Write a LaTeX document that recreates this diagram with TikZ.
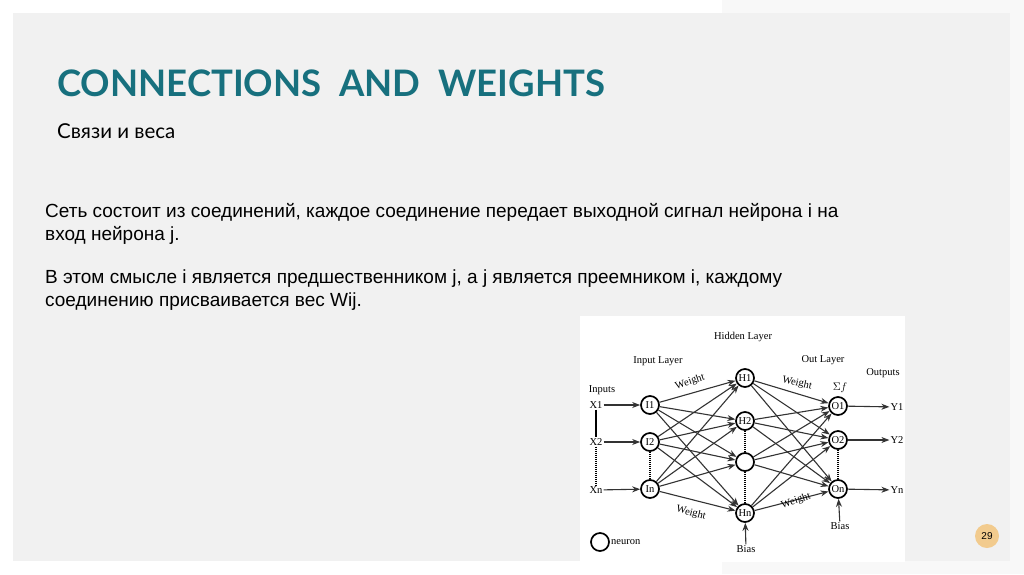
\documentclass[tikz,border=0pt]{standalone}
\usepackage{fontspec}
\setmainfont{Liberation Sans}
\newfontfamily\titlefont{Lato}
\newfontfamily\netfont{Liberation Serif}
\usetikzlibrary{arrows.meta}
\definecolor{slidegray}{HTML}{F1F1F1}
\definecolor{sidegray}{HTML}{F8F8F8}
\definecolor{titleteal}{HTML}{17707E}
\definecolor{badge}{HTML}{F2CB8E}

\begin{document}
\begin{tikzpicture}[x=1pt,y=-1pt,
	neuron/.style={draw,circle,line width=1.7pt,minimum size=18pt,inner sep=0pt,font=\netfont\fontsize{10.5}{10.5}\selectfont},
	lbl/.style={font=\netfont\fontsize{10.5}{10.5}\selectfont,inner sep=1pt},
	wire/.style={-{Stealth[length=8pt,width=6pt]},line width=1.1pt,black!80},
	dots/.style={line width=1.7pt,dash pattern=on 1pt off 1pt}]
	% slide background
	\useasboundingbox (0,0) rectangle (1024,574);
	\fill[white] (0,0) rectangle (1024,574);
	\fill[sidegray] (722,0) rectangle (1024,574);
	\fill[slidegray] (13,13) rectangle (1010,561);
	
	\node[anchor=base west,inner sep=0pt,text=titleteal,font=\titlefont\bfseries\fontsize{36.5}{36.5}\selectfont] (title) at (57,96) {CONNECTIONS\ \ AND\ \ WEIGHTS};
	\node[anchor=base west,inner sep=0pt,font=\titlefont\fontsize{20.5}{20.5}\selectfont] (subtitle) at (57,138) {Связи и веса};
	\node[anchor=base west,inner sep=0pt,align=left,font=\fontsize{19}{23}\selectfont] (p1) at (45,240) {Сеть состоит из соединений, каждое соединение передает выходной сигнал нейрона i на\\вход нейрона j.};
	\node[anchor=base west,inner sep=0pt,align=left,font=\fontsize{19}{23}\selectfont] (p2) at (45,306) {В этом смысле i является предшественником j, а j является преемником i, каждому\\соединению присваивается вес Wij.};
	
	\node[circle,fill=badge,minimum size=24pt,inner sep=0pt,font=\fontsize{10}{10}\selectfont] (page) at (987,536) {29};
	
	% network picture
	\fill[white] (580,316) rectangle (905,562);
	
	\node[lbl] (hidden) at (743,337) {Hidden Layer};
	\node[lbl] (inlayer) at (658,361) {Input Layer};
	\node[lbl] (outlayer) at (823,360) {Out Layer};
	\node[lbl] (outputs) at (883,373) {Outputs};
	\node[lbl] (inputs) at (602,390) {Inputs};
	\node[lbl] (sigma) at (840,388) {$\Sigma f$};
	
	\node[lbl] (x1) at (596,405) {X1};
	\node[lbl] (x2) at (596,442) {X2};
	\node[lbl] (xn) at (596,490) {Xn};
	
	\node[neuron] (i1) at (650,405) {I1};
	\node[neuron] (i2) at (650,442) {I2};
	\node[neuron] (in) at (650,489) {In};
	
	\node[neuron] (h1) at (745,378) {H1};
	\node[neuron] (h2) at (745,421) {H2};
	\node[neuron] (h3) at (745,462) {};
	\node[neuron] (hn) at (745,513) {Hn};
	
	\node[neuron] (o1) at (838,406) {O1};
	\node[neuron] (o2) at (838,440) {O2};
	\node[neuron] (on) at (838,489) {On};
	
	\node[lbl] (y1) at (897,407) {Y1};
	\node[lbl] (y2) at (897,440) {Y2};
	\node[lbl] (yn) at (897,490) {Yn};
	
	\node[lbl] (biash) at (746,549) {Bias};
	\node[lbl] (biaso) at (840,526) {Bias};
	
	\node[neuron] (legend) at (600,542) {};
	\node[lbl,anchor=west] (legendtxt) at (610,542) {neuron};
	
	\draw[line width=1.7pt] (x1) -- (x2);
	\draw[dots] (x2) -- (xn);
	\draw[dots] (i2) -- (in);
	\draw[dots] (h2) -- (h3);
	\draw[dots] (h3) -- (hn);
	\draw[dots] (o2) -- (on);
	
	\draw[wire] (x1) -- (i1);
	\draw[wire] (x2) -- (i2);
	\draw[wire] (xn) -- (in);
	
	\draw[wire] (i1) -- (h1);
	\draw[wire] (i1) -- (h2);
	\draw[wire] (i1) -- (h3);
	\draw[wire] (i1) -- (hn);
	\draw[wire] (i2) -- (h1);
	\draw[wire] (i2) -- (h2);
	\draw[wire] (i2) -- (h3);
	\draw[wire] (i2) -- (hn);
	\draw[wire] (in) -- (h1);
	\draw[wire] (in) -- (h2);
	\draw[wire] (in) -- (h3);
	\draw[wire] (in) -- (hn);
	
	\draw[wire] (h1) -- (o1);
	\draw[wire] (h1) -- (o2);
	\draw[wire] (h1) -- (on);
	\draw[wire] (h2) -- (o1);
	\draw[wire] (h2) -- (o2);
	\draw[wire] (h2) -- (on);
	\draw[wire] (h3) -- (o1);
	\draw[wire] (h3) -- (o2);
	\draw[wire] (h3) -- (on);
	\draw[wire] (hn) -- (o1);
	\draw[wire] (hn) -- (o2);
	\draw[wire] (hn) -- (on);
	
	\draw[wire] (o1) -- (y1);
	\draw[wire] (o2) -- (y2);
	\draw[wire] (on) -- (yn);
	\draw[wire] (biash) -- (hn);
	\draw[wire] (biaso) -- (on);
	
	\node[lbl,rotate=18] (w1) at (690,382) {Weight};
	\node[lbl,rotate=-14] (w2) at (691,513) {Weight};
	\node[lbl,rotate=-13] (w3) at (797,383) {Weight};
	\node[lbl,rotate=18] (w4) at (796,501) {Weight};
\end{tikzpicture}
\end{document}
